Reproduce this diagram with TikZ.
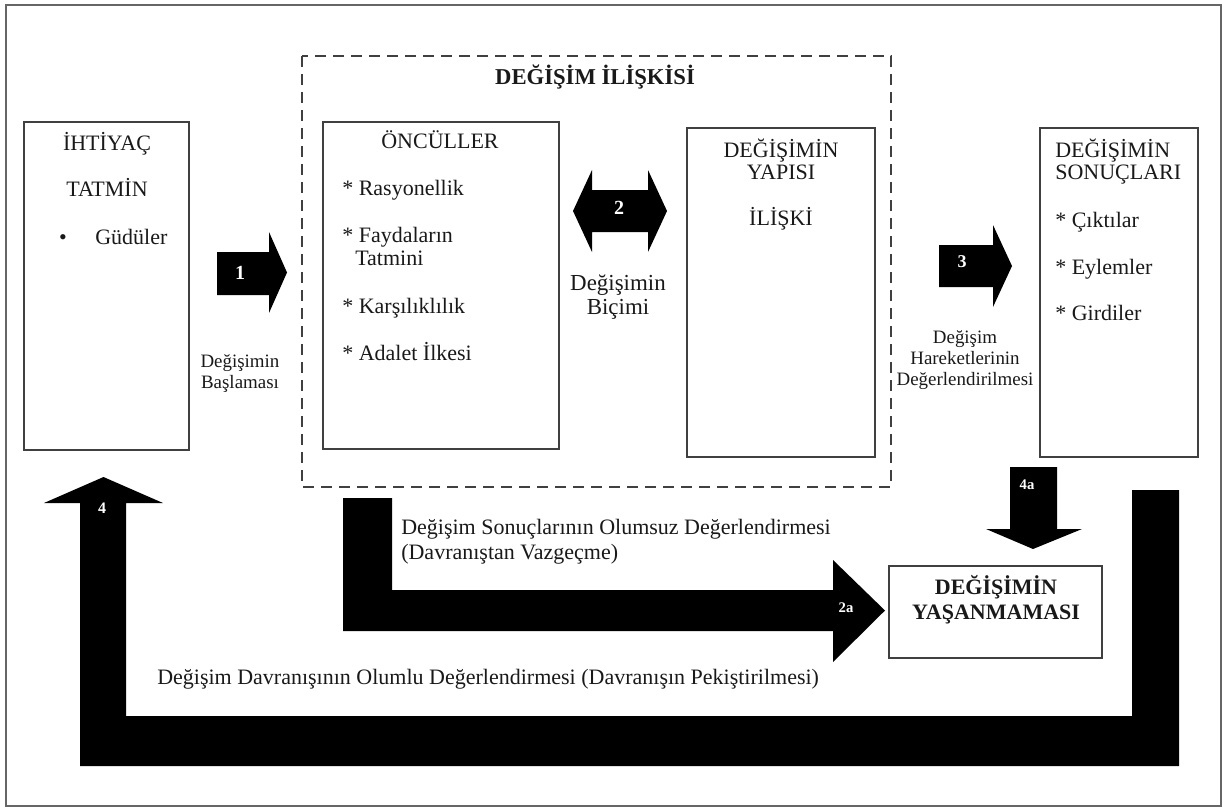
\documentclass[tikz,border=0pt]{standalone}
\usepackage{fontspec}
\setmainfont{Liberation Serif}
\begin{document}
\begin{tikzpicture}[x=0.75pt,y=-0.75pt,
  frame/.style={draw=black!60, line width=1.4pt},
  box/.style={draw=black!75, line width=1.1pt},
  grp/.style={draw=black!75, line width=1.2pt, dash pattern=on 8.5pt off 5pt},
  blk/.style={fill=black, draw=none},
  txt/.style={font=\fontsize{16.5}{20}\selectfont, inner sep=0pt, anchor=base, text=black!90},
  txtl/.style={txt, anchor=base west},
  smalltxt/.style={font=\fontsize{14.2}{16}\selectfont, inner sep=0pt, anchor=base, text=black!90},
  bigtxt/.style={font=\fontsize{17.2}{20}\selectfont, inner sep=0pt, anchor=base, text=black!90},
  headtxt/.style={font=\bfseries\fontsize{17}{20}\selectfont, inner sep=0pt, anchor=base, text=black!90},
  num/.style={font=\bfseries\fontsize{15}{16}\selectfont, inner sep=0pt, text=white},
  subnum/.style={font=\bfseries\fontsize{11}{12}\selectfont, inner sep=0pt, text=white}
]
\useasboundingbox (0,0) rectangle (1226,810);

% outer frame
\draw[frame] (6,5) rectangle (1221,806);

% ---------- boxes ----------
\path (24,122) coordinate (ih-nw) (189,450) coordinate (ih-se);
\draw[box] (ih-nw) rectangle (ih-se);
\path (302,56) coordinate (rel-nw) (891,487) coordinate (rel-se);
\draw[grp] (rel-nw) rectangle (rel-se);
\path (323,122) coordinate (on-nw) (559,449) coordinate (on-se);
\draw[box] (on-nw) rectangle (on-se);
\path (687,128) coordinate (ya-nw) (875,457) coordinate (ya-se);
\draw[box] (ya-nw) rectangle (ya-se);
\path (1040,128) coordinate (so-nw) (1198,457) coordinate (so-se);
\draw[box] (so-nw) rectangle (so-se);
\path (889,566) coordinate (yas-nw) (1102,658) coordinate (yas-se);
\draw[box] (yas-nw) rectangle (yas-se);

% ---------- box texts ----------
\node[txt] (ih1) at (107,150) {İHTİYAÇ};
\node[txt] (ih2) at (107,196) {TATMİN};
\node[txt] (ihb) at (63,244) {•};
\node[txtl] (ih3) at (95,244) {Güdüler};

\node[headtxt] (relt) at (595,84) {DEĞİŞİM İLİŞKİSİ};

\node[txt] (on0) at (440,148) {ÖNCÜLLER};
\node[txtl] (on1) at (342,195) {* Rasyonellik};
\node[txtl] (on2) at (342,242) {* Faydaların};
\node[txtl] (on2b) at (355,265) {Tatmini};
\node[txtl] (on3) at (342,313) {* Karşılıklılık};
\node[txtl] (on4) at (342,360) {* Adalet İlkesi};

\node[txt] (ya1) at (781,157) {DEĞİŞİMİN};
\node[txt] (ya2) at (781,179) {YAPISI};
\node[txt] (ya3) at (781,225) {İLİŞKİ};

\node[txtl] (so1) at (1055,157) {DEĞİŞİMİN};
\node[txtl] (so2) at (1055,179) {SONUÇLARI};
\node[txtl] (so3) at (1055,227) {* Çıktılar};
\node[txtl] (so4) at (1055,274) {* Eylemler};
\node[txtl] (so5) at (1055,320) {* Girdiler};

\node[headtxt, font=\bfseries\fontsize{16.5}{20}\selectfont] (yas1) at (996,594) {DEĞİŞİMİN};
\node[headtxt, font=\bfseries\fontsize{16.5}{20}\selectfont] (yas2) at (996,619) {YAŞANMAMASI};

% ---------- block arrows ----------
% 1: needs -> antecedents
\fill[blk] (217,252) -- (269,252) -- (269,232) -- (287,272.5) -- (269,313) -- (269,295) -- (217,295) -- cycle;
\node[num] (n1) at (240,273) {1};
\node[smalltxt] (l1a) at (240,367) {Değişimin};
\node[smalltxt] (l1b) at (240,388) {Başlaması};

% 2: antecedents <-> structure
\fill[blk] (573,211) -- (592,170) -- (592,190) -- (648,190) -- (648,170) -- (667,211)
  -- (648,252) -- (648,232) -- (592,232) -- (592,252) -- cycle;
\node[num] (n2) at (619,208) {2};
\node[bigtxt] (l2a) at (618,290) {Değişimin};
\node[bigtxt] (l2b) at (618,314) {Biçimi};

% 3: structure -> outcomes
\fill[blk] (939,245) -- (993,245) -- (993,225) -- (1012,266) -- (993,307) -- (993,287) -- (939,287) -- cycle;
\node[num, font=\bfseries\fontsize{13.5}{14}\selectfont] (n3) at (962,262) {3};
\node[smalltxt] (l3a) at (965,343) {Değişim};
\node[smalltxt] (l3b) at (965,364) {Hareketlerinin};
\node[smalltxt] (l3c) at (965,385) {Değerlendirilmesi};

% 4a: outcomes -> no exchange
\fill[blk] (1010,467) -- (1057,467) -- (1057,529) -- (1082,529) -- (1033,549) -- (986,529) -- (1010,529) -- cycle;
\node[subnum] (n4a) at (1027,485) {4a};

% 2a: relation -> no exchange
\fill[blk] (343,498) -- (392,498) -- (392,590) -- (833,590) -- (833,560) -- (885,610.5)
  -- (833,662) -- (833,631) -- (343,631) -- cycle;
\node[subnum] (n2a) at (846,608) {2a};
\node[txtl] (l2a1) at (401,534) {Değişim Sonuçlarının Olumsuz Değerlendirmesi};
\node[txtl] (l2a2) at (401,559) {(Davranıştan Vazgeçme)};

% 4: feedback loop back to needs
\fill[blk] (1132,490) -- (1179,490) -- (1179,766) -- (80,766) -- (80,503) -- (44,503)
  -- (103.5,477) -- (163,503) -- (126,503) -- (126,716) -- (1132,716) -- cycle;
\node[num, font=\bfseries\fontsize{12}{13}\selectfont] (n4) at (102,508) {4};
\node[txtl] (l4) at (157,684) {Değişim Davranışının Olumlu Değerlendirmesi (Davranışın Pekiştirilmesi)};

\end{tikzpicture}
\end{document}
